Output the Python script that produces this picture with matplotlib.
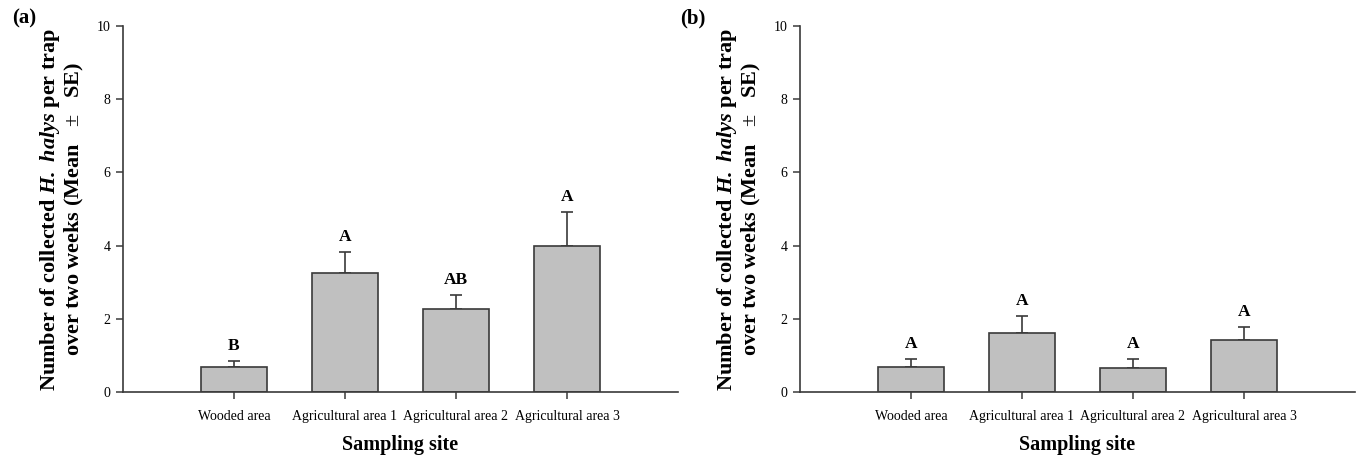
### Two-panel bar chart: H. halys trap counts by sampling site

import numpy as np
import matplotlib.pyplot as plt

plt.rcParams['font.family'] = 'Liberation Serif'
plt.rcParams['mathtext.fontset'] = 'custom'
plt.rcParams['mathtext.rm'] = 'Liberation Serif'
plt.rcParams['mathtext.bf'] = 'Liberation Serif:bold'
plt.rcParams['mathtext.bfit'] = 'Liberation Serif:bold:italic'

sites = ["Wooded area", "Agricultural area 1", "Agricultural area 2", "Agricultural area 3"]

mean_a = [0.68, 3.26, 2.26, 4.00]
se_a = [0.17, 0.56, 0.39, 0.91]
letters_a = ["B", "A", "AB", "A"]

mean_b = [0.67, 1.60, 0.65, 1.43]
se_b = [0.23, 0.48, 0.24, 0.35]
letters_b = ["A", "A", "A", "A"]

panels = ["(a)", "(b)"]

fig = plt.figure(figsize=(13.57, 4.57), dpi=100)
ax1 = fig.add_axes([0.0906, 0.1422, 0.409, 0.8008])
ax2 = fig.add_axes([0.5895, 0.1422, 0.409, 0.8008])

edge = '#3a3a3a'
ylabel = ("Number of collected $\\mathbfit{H.}$ $\\mathbfit{halys}$ per trap\n"
          "over two weeks (Mean $\\ \\pm\\ $ SE)")

for ax, means, ses, letters in zip([ax1, ax2], [mean_a, mean_b], [se_a, se_b],
                                    [letters_a, letters_b]):
    x = np.arange(1, len(sites) + 1)
    ax.bar(x, means, width=0.6, color='#c0c0c0', edgecolor=edge, linewidth=1.2, zorder=2)
    ax.errorbar(x, means, yerr=[np.zeros(len(ses)), ses], fmt='none', ecolor=edge,
                elinewidth=1.2, capsize=4, capthick=1.2, zorder=1)
    for xi, m, s, let in zip(x, means, ses, letters):
        ax.text(xi, m + s + 0.2, let, ha='center', va='bottom', fontsize=12.5,
                fontweight='bold')

    ax.set_xlim(0, 5)
    ax.set_ylim(0, 10)
    ax.set_xticks(x)
    ax.set_xticklabels(sites, fontsize=10)
    ax.set_yticks([0, 2, 4, 6, 8, 10])
    ax.tick_params(axis='both', labelsize=10, length=5, width=1.1, color=edge, pad=4)
    ax.tick_params(axis='x', pad=8)
    for side in ['top', 'right']:
        ax.spines[side].set_visible(False)
    for side in ['left', 'bottom']:
        ax.spines[side].set_color(edge)
        ax.spines[side].set_linewidth(1.2)

    ax.set_xlabel("Sampling site", fontsize=14.5, fontweight='bold')
    ax.xaxis.set_label_coords(0.5, -0.145)
    ax.xaxis.label.set_va('center')
    ax.set_ylabel(ylabel, fontsize=16, fontweight='bold', linespacing=1.05)
    ax.yaxis.set_label_coords(-0.11, 0.5)
    ax.yaxis.label.set_va('center')

fig.text(0.009, 0.96, panels[0], fontsize=15, fontweight='bold', va='center')
fig.text(0.5015, 0.96, panels[1], fontsize=15, fontweight='bold', va='center')

fig.savefig('out.png', dpi=100)
